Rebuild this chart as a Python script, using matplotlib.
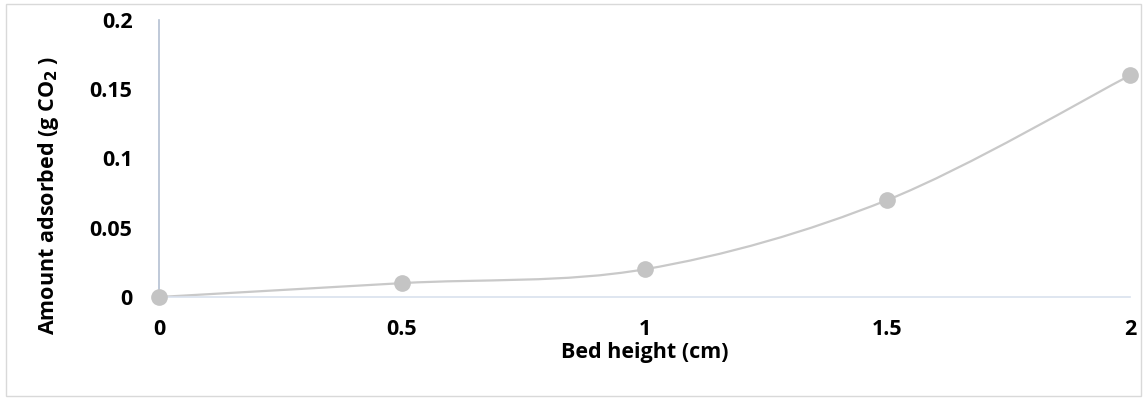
import matplotlib.pyplot as plt
from matplotlib.path import Path
from matplotlib.patches import PathPatch, Rectangle

# data
bed_height = [0, 0.5, 1, 1.5, 2]
amount = [0, 0.01, 0.02, 0.07, 0.16]
yticks = [0, 0.05, 0.1, 0.15, 0.2]
ytick_labels = ['0', '0.05', '0.1', '0.15', '0.2']
xtick_labels = ['0', '0.5', '1', '1.5', '2']

plt.rcParams['font.family'] = ['Open Sans', 'DejaVu Sans']

fig = plt.figure(figsize=(11.47, 3.98), dpi=100)
ax = fig.add_axes([159/1147, 1 - 297/398, (1130-159)/1147, (297-20)/398])

# smoothed line (Excel style bezier between the points)
def smooth_path(x, y, t=1/6):
    verts = [(x[0], y[0])]
    codes = [Path.MOVETO]
    n = len(x)
    for i in range(n - 1):
        x0, y0 = (x[i-1], y[i-1]) if i > 0 else (x[i], y[i])
        x3, y3 = (x[i+2], y[i+2]) if i + 2 < n else (x[i+1], y[i+1])
        c1 = (x[i] + (x[i+1] - x0) * t, y[i] + (y[i+1] - y0) * t)
        c2 = (x[i+1] - (x3 - x[i]) * t, y[i+1] - (y3 - y[i]) * t)
        verts += [c1, c2, (x[i+1], y[i+1])]
        codes += [Path.CURVE4] * 3
    return Path(verts, codes)

ax.add_patch(PathPatch(smooth_path(bed_height, amount), facecolor='none',
                       edgecolor='#c9c9c9', lw=1.6, zorder=2))
ax.plot(bed_height, amount, 'o', color='#c4c4c4', ms=11, zorder=3, clip_on=False)

ax.set_xlim(0, 2)
ax.set_ylim(0, 0.2)
ax.set_yticks(yticks)
ax.set_yticklabels(ytick_labels, fontweight='bold')
ax.set_xticks(bed_height)
ax.set_xticklabels(xtick_labels, fontweight='bold')
ax.tick_params(length=0, labelsize=15.5)
ax.tick_params(axis='y', pad=19)
ax.tick_params(axis='x', pad=16)

for s in ['top', 'right']:
    ax.spines[s].set_visible(False)
ax.spines['left'].set_color('#b4c0d2')
ax.spines['left'].set_linewidth(1.2)
ax.spines['bottom'].set_color('#d9e1ee')
ax.spines['bottom'].set_linewidth(1.2)

ax.set_xlabel('Bed height (cm)', fontsize=15.5, fontweight='bold', labelpad=1)
ax.set_ylabel('Amount adsorbed (g CO$_\\mathbf{2}$ )', fontsize=15.5, fontweight='bold')
ax.yaxis.set_label_coords(-(159-61)/971, (297-195)/277)

fig.patches.append(Rectangle((6/1147, 2/398), 1135/1147, 392/398, transform=fig.transFigure,
                             facecolor='none', edgecolor='#d9d9d9', lw=1))

fig.savefig('out.png', dpi=100)
